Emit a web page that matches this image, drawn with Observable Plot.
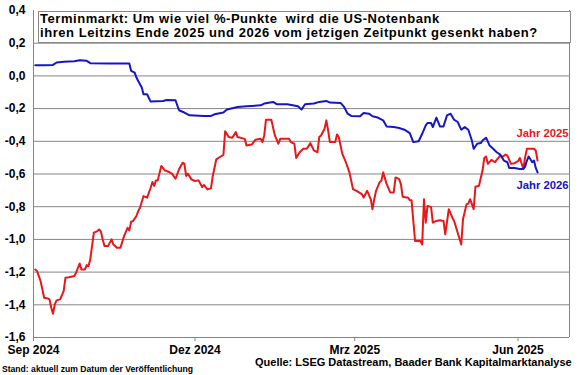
<!DOCTYPE html>
<html><head><meta charset="utf-8">
<script src="https://cdn.jsdelivr.net/npm/d3@7"></script>
<script src="https://cdn.jsdelivr.net/npm/@observablehq/plot@0.6"></script>
<style>
body{margin:0;background:#fff;}
#wrap{position:relative;width:580px;height:375px;font-family:Arial,"Liberation Sans",sans-serif;color:#000;overflow:hidden;}
#wrap svg{position:absolute;left:0;top:0;}
#titlebox{position:absolute;left:38px;top:11px;width:533px;height:32px;box-sizing:border-box;border:1px solid #8a8a8a;background:#fff;}
.tline{position:absolute;left:40px;font-weight:bold;font-size:13px;line-height:14.5px;height:14.5px;letter-spacing:0.55px;white-space:nowrap;}
#source{position:absolute;left:255px;top:356px;font-weight:bold;font-size:11px;line-height:13px;white-space:nowrap;}
#stand{position:absolute;left:2px;top:364px;font-weight:bold;font-size:8.6px;line-height:10px;white-space:nowrap;}
</style>
</head><body>
<div id="wrap"></div>
<script>
const titleLines = ["Terminmarkt: Um wie viel %-Punkte  wird die US-Notenbank", "ihren Leitzins Ende 2025 und 2026 vom jetzigen Zeitpunkt gesenkt haben?"];
const sourceText = "Quelle: LSEG Datastream, Baader Bank Kapitalmarktanalyse";
const standText = "Stand: aktuell zum Datum der Veröffentlichung";
const seriesNames = ["Jahr 2025", "Jahr 2026"];
const seriesColors = ["#e8171c", "#1616c4"];
const yTicks = [0.4, 0.2, 0.0, -0.2, -0.4, -0.6, -0.8, -1.0, -1.2, -1.4, -1.6];
const xTickDates = ["2024-09-01", "2024-12-01", "2025-03-01", "2025-06-01"];
const xTickLabels = ["Sep 2024", "Dez 2024", "Mrz 2025", "Jun 2025"];
const xDomain = ["2024-09-01", "2025-06-30"];

const dates2026 = ["2024-09-02","2024-09-07","2024-09-12","2024-09-14","2024-09-18","2024-09-24","2024-09-27","2024-10-01","2024-10-03","2024-10-14","2024-10-25","2024-10-26","2024-10-28","2024-10-29","2024-10-30","2024-11-01","2024-11-02","2024-11-04","2024-11-06","2024-11-13","2024-11-15","2024-11-20","2024-11-22","2024-11-25","2024-11-28","2024-12-06","2024-12-10","2024-12-12","2024-12-17","2024-12-19","2024-12-25","2024-12-30","2025-01-07","2025-01-09","2025-01-14","2025-01-16","2025-01-22","2025-01-28","2025-01-30","2025-02-01","2025-02-06","2025-02-09","2025-02-13","2025-02-15","2025-02-21","2025-02-23","2025-02-25","2025-02-27","2025-03-04","2025-03-06","2025-03-09","2025-03-11","2025-03-14","2025-03-17","2025-03-19","2025-03-23","2025-03-26","2025-03-29","2025-04-01","2025-04-03","2025-04-06","2025-04-08","2025-04-10","2025-04-11","2025-04-13","2025-04-14","2025-04-16","2025-04-18","2025-04-20","2025-04-22","2025-04-24","2025-04-26","2025-04-28","2025-04-30","2025-05-02","2025-05-04","2025-05-06","2025-05-07","2025-05-09","2025-05-11","2025-05-12","2025-05-14","2025-05-16","2025-05-18","2025-05-20","2025-05-22","2025-05-24","2025-05-26","2025-05-27","2025-05-30","2025-06-02","2025-06-04","2025-06-05","2025-06-06","2025-06-07","2025-06-09","2025-06-10","2025-06-11","2025-06-12"];
const values2026 = [0.065,0.065,0.067,0.082,0.086,0.09,0.096,0.092,0.078,0.076,0.076,0.031,0.02,-0.01,-0.031,-0.071,-0.112,-0.112,-0.157,-0.153,-0.147,-0.149,-0.21,-0.224,-0.241,-0.245,-0.245,-0.235,-0.224,-0.206,-0.19,-0.186,-0.18,-0.169,-0.159,-0.173,-0.173,-0.186,-0.206,-0.173,-0.169,-0.159,-0.153,-0.163,-0.165,-0.19,-0.231,-0.245,-0.247,-0.227,-0.231,-0.247,-0.255,-0.272,-0.309,-0.313,-0.319,-0.329,-0.35,-0.405,-0.4,-0.354,-0.303,-0.288,-0.288,-0.313,-0.255,-0.309,-0.309,-0.241,-0.231,-0.268,-0.282,-0.329,-0.313,-0.329,-0.395,-0.446,-0.415,-0.411,-0.395,-0.378,-0.426,-0.446,-0.467,-0.481,-0.518,-0.528,-0.563,-0.563,-0.569,-0.569,-0.555,-0.518,-0.493,-0.528,-0.518,-0.563,-0.59];

const dates2025 = ["2024-09-02","2024-09-03","2024-09-05","2024-09-07","2024-09-09","2024-09-10","2024-09-11","2024-09-12","2024-09-13","2024-09-14","2024-09-16","2024-09-18","2024-09-19","2024-09-21","2024-09-24","2024-09-25","2024-09-27","2024-09-28","2024-09-30","2024-10-01","2024-10-02","2024-10-03","2024-10-05","2024-10-07","2024-10-08","2024-10-09","2024-10-10","2024-10-11","2024-10-13","2024-10-15","2024-10-16","2024-10-17","2024-10-18","2024-10-20","2024-10-22","2024-10-24","2024-10-25","2024-10-26","2024-10-27","2024-10-29","2024-10-30","2024-10-31","2024-11-02","2024-11-04","2024-11-06","2024-11-07","2024-11-08","2024-11-09","2024-11-10","2024-11-12","2024-11-14","2024-11-16","2024-11-18","2024-11-20","2024-11-22","2024-11-24","2024-11-25","2024-11-26","2024-11-27","2024-11-29","2024-12-01","2024-12-03","2024-12-05","2024-12-06","2024-12-08","2024-12-10","2024-12-11","2024-12-13","2024-12-15","2024-12-17","2024-12-18","2024-12-20","2024-12-22","2024-12-24","2024-12-25","2024-12-29","2024-12-30","2025-01-02","2025-01-04","2025-01-07","2025-01-08","2025-01-09","2025-01-10","2025-01-13","2025-01-15","2025-01-17","2025-01-18","2025-01-23","2025-01-24","2025-01-26","2025-01-27","2025-01-29","2025-01-31","2025-02-02","2025-02-04","2025-02-06","2025-02-08","2025-02-09","2025-02-10","2025-02-12","2025-02-13","2025-02-14","2025-02-15","2025-02-18","2025-02-19","2025-02-20","2025-02-22","2025-02-24","2025-02-26","2025-02-28","2025-03-02","2025-03-05","2025-03-06","2025-03-08","2025-03-10","2025-03-11","2025-03-12","2025-03-13","2025-03-15","2025-03-16","2025-03-17","2025-03-19","2025-03-21","2025-03-23","2025-03-24","2025-03-26","2025-03-27","2025-03-28","2025-03-30","2025-03-31","2025-04-01","2025-04-02","2025-04-03","2025-04-04","2025-04-07","2025-04-08","2025-04-09","2025-04-10","2025-04-11","2025-04-13","2025-04-14","2025-04-16","2025-04-18","2025-04-20","2025-04-21","2025-04-23","2025-04-25","2025-04-26","2025-04-28","2025-04-30","2025-05-01","2025-05-03","2025-05-04","2025-05-05","2025-05-07","2025-05-08","2025-05-10","2025-05-12","2025-05-13","2025-05-14","2025-05-15","2025-05-17","2025-05-19","2025-05-20","2025-05-22","2025-05-23","2025-05-25","2025-05-26","2025-05-28","2025-05-30","2025-06-01","2025-06-02","2025-06-04","2025-06-05","2025-06-06","2025-06-08","2025-06-10","2025-06-11","2025-06-12"];
const values2025 = [-1.184,-1.194,-1.255,-1.357,-1.361,-1.367,-1.418,-1.455,-1.398,-1.373,-1.367,-1.316,-1.235,-1.231,-1.224,-1.204,-1.147,-1.184,-1.184,-1.157,-1.163,-1.122,-0.959,-0.949,-0.939,-0.953,-1.0,-1.041,-1.041,-1.0,-1.031,-1.041,-1.051,-1.051,-0.98,-0.929,-0.945,-0.892,-0.888,-0.857,-0.827,-0.806,-0.735,-0.745,-0.684,-0.649,-0.673,-0.639,-0.639,-0.551,-0.578,-0.586,-0.598,-0.629,-0.571,-0.531,-0.537,-0.612,-0.598,-0.633,-0.643,-0.639,-0.68,-0.667,-0.694,-0.688,-0.612,-0.51,-0.496,-0.483,-0.338,-0.374,-0.378,-0.344,-0.374,-0.385,-0.426,-0.419,-0.391,-0.385,-0.405,-0.364,-0.268,-0.268,-0.364,-0.415,-0.385,-0.385,-0.405,-0.415,-0.502,-0.467,-0.446,-0.446,-0.411,-0.456,-0.467,-0.374,-0.364,-0.323,-0.272,-0.333,-0.405,-0.405,-0.358,-0.374,-0.477,-0.528,-0.59,-0.692,-0.703,-0.723,-0.744,-0.703,-0.754,-0.815,-0.754,-0.703,-0.651,-0.641,-0.59,-0.662,-0.713,-0.713,-0.621,-0.631,-0.662,-0.739,-0.744,-0.744,-0.76,-0.76,-0.887,-1.01,-1.01,-1.031,-0.754,-0.897,-0.795,-0.801,-0.897,-0.887,-0.883,-0.887,-0.969,-0.815,-0.867,-0.887,-0.959,-1.031,-0.877,-0.785,-0.781,-0.754,-0.815,-0.678,-0.672,-0.579,-0.502,-0.493,-0.538,-0.514,-0.528,-0.514,-0.487,-0.497,-0.481,-0.487,-0.538,-0.534,-0.522,-0.502,-0.569,-0.497,-0.446,-0.446,-0.446,-0.456,-0.518];

const parse = s => new Date(s + "T00:00:00Z");
const rows2025 = dates2025.map((d, i) => ({date: parse(d), value: values2025[i], series: seriesNames[0]}));
const rows2026 = dates2026.map((d, i) => ({date: parse(d), value: values2026[i], series: seriesNames[1]}));
const labelMap = new Map(xTickDates.map((d, i) => [parse(d).getTime(), xTickLabels[i]]));
const xd = xDomain.map(parse);
const gridGray = "#858585";

const chart = Plot.plot({
  width: 580, height: 375,
  marginLeft: 33, marginRight: 11, marginTop: 10, marginBottom: 38,
  style: {fontFamily: "Arial, 'Liberation Sans', sans-serif", fontSize: "12px", fontWeight: "bold", color: "#000", background: "transparent"},
  x: {type: "utc", domain: xd, label: null},
  y: {domain: [yTicks[yTicks.length - 1], yTicks[0]], label: null},
  color: {domain: seriesNames, range: seriesColors},
  marks: [
    Plot.gridY(yTicks.slice(1, -1), {stroke: gridGray, strokeOpacity: 1, strokeWidth: 1}),
    Plot.ruleY([yTicks[yTicks.length - 1]], {stroke: gridGray, strokeWidth: 1}),
    Plot.ruleX([xd[0]], {stroke: gridGray, strokeWidth: 1}),
    Plot.ruleX([xd[1]], {stroke: gridGray, strokeWidth: 1}),
    Plot.axisY(yTicks, {tickSize: 0, tickPadding: 8, fontSize: 12, fontWeight: "bold", fill: "#000",
      tickFormat: d => d.toFixed(1).replace(".", ",")}),
    Plot.axisX(xTickDates.map(parse), {tickSize: 4, tickPadding: 4, stroke: gridGray, fontSize: 12, fontWeight: "bold", fill: "#000",
      tickFormat: d => labelMap.get(d.getTime())}),
    Plot.line(rows2025, {x: "date", y: "value", stroke: "series", strokeWidth: 2}),
    Plot.line(rows2026, {x: "date", y: "value", stroke: "series", strokeWidth: 2}),
    Plot.text(rows2025, Plot.selectLast({x: "date", y: "value", text: "series", fill: "series", dx: 5, dy: -27, fontSize: 11.3, fontWeight: "bold"})),
    Plot.text(rows2026, Plot.selectLast({x: "date", y: "value", text: "series", fill: "series", dx: 5, dy: 13, fontSize: 11.3, fontWeight: "bold"}))
  ]
});

const wrap = document.getElementById("wrap");
wrap.appendChild(chart);
const box = document.createElement("div");
box.id = "titlebox";
wrap.appendChild(box);
const lineTops = [11.7, 26.2];
titleLines.forEach((t, i) => {
  const line = document.createElement("div");
  line.className = "tline";
  line.style.top = lineTops[i] + "px";
  line.innerHTML = t.replace(/  /g, " &nbsp;");
  wrap.appendChild(line);
});
const src = document.createElement("div");
src.id = "source"; src.textContent = sourceText; wrap.appendChild(src);
const st = document.createElement("div");
st.id = "stand"; st.textContent = standText; wrap.appendChild(st);
</script>
</body></html>
